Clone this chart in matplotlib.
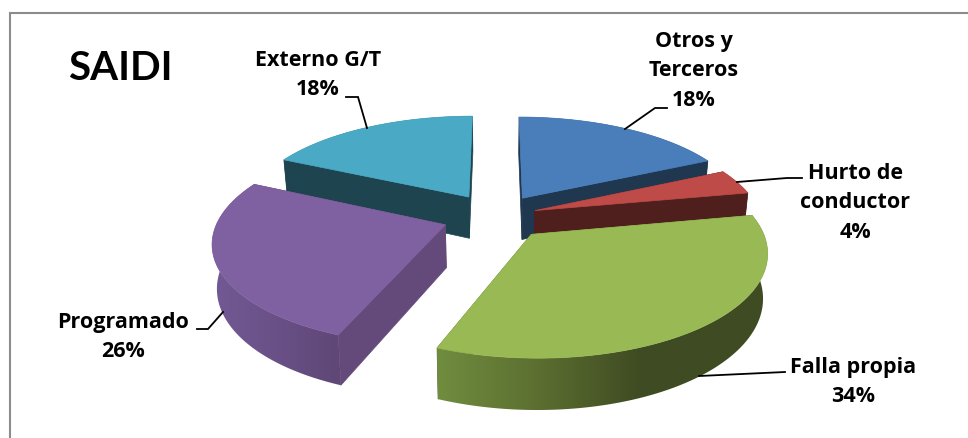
import numpy as np
import matplotlib
matplotlib.use('Agg')
import matplotlib.pyplot as plt
from matplotlib.colors import to_rgb
from matplotlib.patches import Polygon

# Slices, clockwise from 12 o'clock
names = ['Otros y\nTerceros', 'Hurto de\nconductor', 'Falla propia', 'Programado', 'Externo G/T']
values = [18, 4, 34, 26, 18]

plt.rcParams['font.family'] = ['Open Sans', 'DejaVu Sans']

top_colors = ['#4a7ebb', '#be4b48', '#98b954', '#7f60a0', '#4aa9c4']
wall_colors = ['#203750', '#4f1f1d', '#5a6e30', '#634a7a', '#1e4450']
# outer wall shade: canvas x, colour
wall_shade = [
    ([0, 968], ['#203750', '#203750']),
    ([0, 968], ['#4f1f1d', '#4f1f1d']),
    ([440, 540, 640, 770], ['#708c3e', '#5b6e30', '#3f4b22', '#3f4b22']),
    ([210, 270, 345], ['#735a95', '#6a5188', '#5e4675']),
    ([0, 968], ['#1e4450', '#1e4450']),
]
explode = [0.22, 0.18, 0.235, 0.24, 0.235]

# Pie placement on the 968x438 canvas
cx, cy = 496.5, 216
kx, ky = 226, 98.6
persp = 0.153
depth = 42.5
shrink = 0.983


def project(x, y, low=False):
    d = 1 + persp * y
    px = kx * x / d
    py = ky * y / d
    if low:
        return cx + px * shrink, cy - py + depth / d
    return cx + px, cy - py


fig = plt.figure(figsize=(9.68, 4.38), dpi=100)
ax = fig.add_axes([0, 0, 1, 1])
ax.set_xlim(0, 968)
ax.set_ylim(438, 0)
ax.axis('off')

# Frame, only the left and top sides are inside the picture
ax.plot([10, 10, 968], [438, 12.5, 12.5], color='#8c8c8c', lw=1.5, solid_joinstyle='miter')

# Angles of each slice
edges = np.concatenate([[0], np.cumsum(values)]) / np.sum(values) * 360

# Back slices first
z = 3
for i in [4, 0, 1, 3, 2]:
    mid = np.radians((edges[i] + edges[i + 1]) / 2)
    ox = explode[i] * np.sin(mid)
    oy = explode[i] * np.cos(mid)
    t = np.radians(np.linspace(edges[i], edges[i + 1], 160))
    x = ox + np.sin(t)
    y = oy + np.cos(t)
    tx, ty = project(x, y)
    bx, by = project(x, y, low=True)
    ax_t, ay_t = project(ox, oy)
    ax_b, ay_b = project(ox, oy, low=True)

    # radial walls
    for j in [0, -1]:
        ax.fill([ax_t, tx[j], bx[j], ax_b], [ay_t, ty[j], by[j], ay_b],
                color=wall_colors[i], lw=0.5, zorder=z)
        z += 1

    # outer wall with a sideways gradient, clipped to the wall shape
    wall = Polygon(np.c_[np.r_[tx, bx[::-1]], np.r_[ty, by[::-1]]], closed=True, transform=ax.transData)
    stops, cols = wall_shade[i]
    rgb = np.array([to_rgb(c) for c in cols])
    xs = np.linspace(min(bx.min(), tx.min()), max(bx.max(), tx.max()), 400)
    grad = np.stack([np.interp(xs, stops, rgb[:, c]) for c in range(3)], axis=1)[None, :, :]
    im = ax.imshow(grad, extent=(xs[0], xs[-1], by.max() + 1, ty.min() - 1), aspect='auto',
                   interpolation='bilinear', zorder=z)
    im.set_clip_path(wall)
    z += 1

    # top face
    ax.fill(np.r_[ax_t, tx], np.r_[ay_t, ty], color=top_colors[i], lw=0.5, zorder=z)
    z += 1

ax.set_xlim(0, 968)
ax.set_ylim(438, 0)

# Leader lines
leaders = [
    ([667, 655, 625], [108, 108, 129]),
    ([802, 787, 737], [178, 178, 182]),
    ([785, 699], [372, 376]),
    ([197, 208, 223], [329, 329, 312]),
    ([346, 358, 367], [97, 97, 128]),
]
for lx, ly in leaders:
    ax.plot(lx, ly, color='black', lw=1.3, solid_joinstyle='miter', zorder=z)

# Labels
label_pos = [(694, 71), (855, 203), (853, 382), (123, 337), (318, 75)]
for i in range(len(values)):
    txt = f'{names[i]}\n{values[i]}%'
    ax.text(label_pos[i][0], label_pos[i][1], txt, ha='center', va='center',
            fontsize=15.5, fontweight='bold', linespacing=1.52, color='black', zorder=z)

ax.text(68, 68, 'SAIDI', ha='left', va='center', fontsize=29, fontweight='bold',
        family=['Lato', 'DejaVu Sans'], color='black', zorder=z)

fig.savefig('out.png', dpi=100)
